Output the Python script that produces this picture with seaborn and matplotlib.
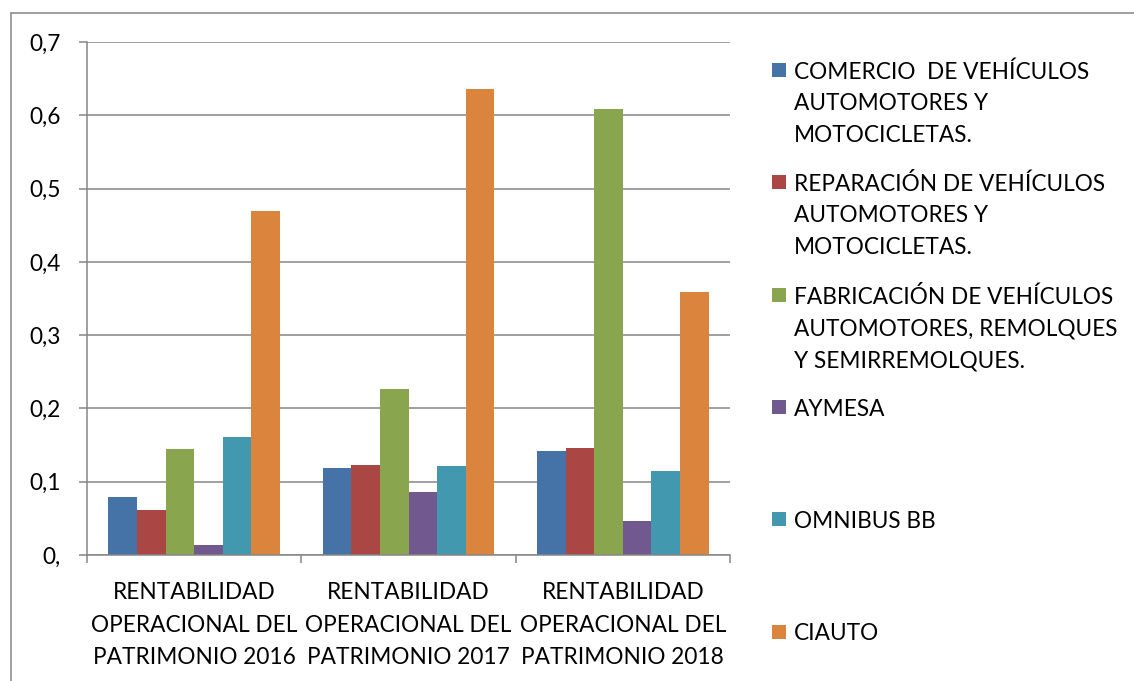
import matplotlib
matplotlib.use("Agg")
import matplotlib.pyplot as plt
import seaborn as sns
import pandas as pd
from matplotlib.patches import Rectangle
from matplotlib.lines import Line2D

categories = [
    "RENTABILIDAD\nOPERACIONAL DEL\nPATRIMONIO 2016",
    "RENTABILIDAD\nOPERACIONAL DEL\nPATRIMONIO 2017",
    "RENTABILIDAD\nOPERACIONAL DEL\nPATRIMONIO 2018",
]
series_names = [
    "COMERCIO  DE VEHÍCULOS\nAUTOMOTORES Y\nMOTOCICLETAS.",
    "REPARACIÓN DE VEHÍCULOS\nAUTOMOTORES Y\nMOTOCICLETAS.",
    "FABRICACIÓN DE VEHÍCULOS\nAUTOMOTORES, REMOLQUES\nY SEMIRREMOLQUES.",
    "AYMESA",
    "OMNIBUS BB",
    "CIAUTO",
]
comercio = [0.079, 0.119, 0.142]
reparacion = [0.061, 0.123, 0.146]
fabricacion = [0.145, 0.226, 0.608]
aymesa = [0.014, 0.086, 0.047]
omnibus = [0.161, 0.122, 0.115]
ciauto = [0.469, 0.636, 0.359]
y_ticks = [0, 0.1, 0.2, 0.3, 0.4, 0.5, 0.6, 0.7]
y_tick_labels = ["0,", "0,1", "0,2", "0,3", "0,4", "0,5", "0,6", "0,7"]
colors = ["#4572A7", "#AA4643", "#89A54E", "#71588F", "#4198AF", "#DB843D"]

all_values = [comercio, reparacion, fabricacion, aymesa, omnibus, ciauto]
rows = []
for name, vals in zip(series_names, all_values):
    for cat, v in zip(categories, vals):
        rows.append({"cat": cat, "serie": name, "valor": v})
df = pd.DataFrame(rows)

sns.set_style("white")
plt.rcParams["font.family"] = ["Lato", "DejaVu Sans"]

W, H = 1134, 681
fig = plt.figure(figsize=(W / 100, H / 100), dpi=100)
ax = fig.add_axes([87 / W, 1 - 555 / H, (730 - 87) / W, (555 - 42) / H])

sns.barplot(data=df, x="cat", y="valor", hue="serie", order=categories,
            hue_order=series_names, palette=colors, saturation=1, width=0.8,
            linewidth=0, ax=ax, legend=False, errorbar=None)

grid_c = "#868686"
ax.set_ylim(0, 0.7)
ax.set_xlim(-0.5, 2.5)
ax.set_yticks(y_ticks)
ax.set_yticklabels(y_tick_labels)
ax.yaxis.grid(True, color=grid_c, linewidth=1.1)
ax.set_axisbelow(True)
ax.set_xlabel("")
ax.set_ylabel("")
for s in ["top", "right"]:
    ax.spines[s].set_visible(False)
for s in ["left", "bottom"]:
    ax.spines[s].set_color(grid_c)
    ax.spines[s].set_linewidth(1.1)

fs = 16.3
ax.tick_params(axis="y", which="major", length=5.8, width=1.1, color=grid_c,
               labelsize=fs, pad=13, left=True, labelcolor="black")
ax.set_xticks([-0.5, 0.5, 1.5, 2.5], minor=True)
ax.tick_params(axis="x", which="minor", length=5.8, width=1.1, color=grid_c,
               bottom=True)
ax.tick_params(axis="x", which="major", length=0, labelsize=fs, pad=19.5,
               labelcolor="black")
for lab in ax.get_xticklabels():
    lab.set_linespacing(1.68)

# legend drawn manually
entry_y = [70, 182, 295, 407, 519, 632]
line_sp = 32
for name, c, yc in zip(series_names, colors, entry_y):
    fig.patches.append(Rectangle((772 / W, 1 - (yc + 7) / H), 14 / W, 14 / H,
                                 transform=fig.transFigure, facecolor=c,
                                 edgecolor="none"))
    for i, line in enumerate(name.split("\n")):
        fig.text(794 / W, 1 - (yc + i * line_sp) / H, line, fontsize=fs,
                 va="center_baseline", ha="left", color="black")

# outer border (left and top)
fig.lines.append(Line2D([11 / W, 11 / W], [0, 1 - 13 / H],
                        transform=fig.transFigure, color=grid_c, linewidth=1.1))
fig.lines.append(Line2D([11 / W, 1], [1 - 13 / H, 1 - 13 / H],
                        transform=fig.transFigure, color=grid_c, linewidth=1.1))

fig.savefig("out.png", dpi=100)
